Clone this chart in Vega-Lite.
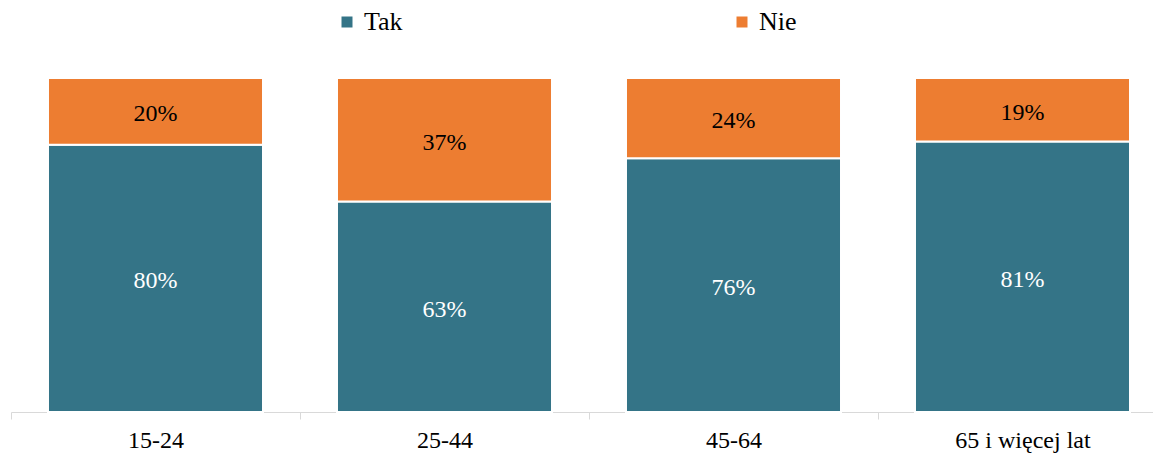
{
  "$schema": "https://vega.github.io/schema/vega-lite/v6.json",
  "width": 1142,
  "height": 334,
  "autosize": {"type": "none"},
  "padding": {"left": 11, "top": 78, "right": 0, "bottom": 43},
  "config": {"view": {"stroke": null}, "font": "Liberation Serif"},
  "data": {
    "values": [
      {"grupa": "15-24", "s": "Tak", "rank": 1, "v": 0.80},
      {"grupa": "15-24", "s": "Nie", "rank": 2, "v": 0.20},
      {"grupa": "25-44", "s": "Tak", "rank": 1, "v": 0.63},
      {"grupa": "25-44", "s": "Nie", "rank": 2, "v": 0.37},
      {"grupa": "45-64", "s": "Tak", "rank": 1, "v": 0.76},
      {"grupa": "45-64", "s": "Nie", "rank": 2, "v": 0.24},
      {"grupa": "65 i więcej lat", "s": "Tak", "rank": 1, "v": 0.81},
      {"grupa": "65 i więcej lat", "s": "Nie", "rank": 2, "v": 0.19}
    ]
  },
  "encoding": {
    "x": {
      "field": "grupa",
      "type": "nominal",
      "sort": ["15-24", "25-44", "45-64", "65 i więcej lat"],
      "scale": {"range": [0, 1156], "paddingInner": 0, "paddingOuter": 0},
      "axis": {
        "title": null,
        "labelAngle": 0,
        "tickBand": "extent",
        "domainColor": "#d9d9d9",
        "tickColor": "#d9d9d9",
        "tickSize": 7,
        "labelFontSize": 24,
        "labelColor": "black",
        "labelPadding": 9,
        "labelFont": "Liberation Serif"
      }
    }
  },
  "layer": [
    {
      "mark": {"type": "bar", "stroke": "white", "strokeWidth": 2, "width": {"band": 0.744}},
      "encoding": {
        "y": {"field": "v", "type": "quantitative", "stack": "zero", "scale": {"domain": [0, 1]}, "axis": null},
        "color": {
          "field": "s",
          "type": "nominal",
          "scale": {"domain": ["Tak", "Nie"], "range": ["#347487", "#ED7D31"]},
          "legend": {
            "orient": "none",
            "legendX": 323,
            "legendY": -69,
            "direction": "horizontal",
            "title": null,
            "symbolType": "square",
            "symbolSize": 121,
            "symbolStrokeWidth": 0,
            "labelFontSize": 26,
            "labelFont": "Liberation Serif",
            "labelColor": "black",
            "columnPadding": 326,
            "labelOffset": 4,
            "padding": 0
          }
        },
        "order": {"field": "rank", "type": "quantitative"}
      }
    },
    {
      "transform": [
        {"stack": "v", "groupby": ["grupa"], "sort": [{"field": "rank"}], "as": ["y0", "y1"]},
        {"calculate": "(datum.y0 + datum.y1) / 2", "as": "mid"}
      ],
      "mark": {"type": "text", "fontSize": 24, "font": "Liberation Serif", "dy": 3},
      "encoding": {
        "y": {"field": "mid", "type": "quantitative", "scale": {"domain": [0, 1]}, "axis": null},
        "text": {"field": "v", "type": "quantitative", "format": ".0%"},
        "color": {"condition": {"test": "datum.s === 'Tak'", "value": "white"}, "value": "black"}
      }
    }
  ]
}
